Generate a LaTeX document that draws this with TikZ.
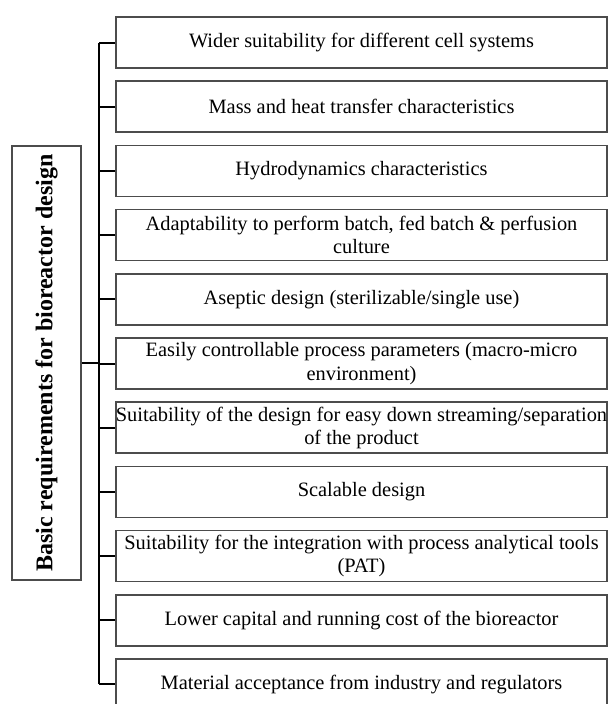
\documentclass[tikz,border=0pt]{standalone}
\usepackage{fontspec}
\setmainfont{Liberation Serif}
\usepackage{tikz}

\begin{document}
\begin{tikzpicture}[
    node distance=1.128cm,
    req/.style={draw=black!70,line width=0.75pt,minimum width=8.63cm,minimum height=0.896cm,
      inner sep=0pt,align=center,font=\fontsize{10.2}{11.6}\selectfont},
    title/.style={draw=black!70,line width=0.75pt,minimum width=7.627cm,minimum height=1.213cm,
      inner sep=0pt,rotate=90,font=\fontsize{12}{14}\selectfont\bfseries},
    bus/.style={line width=1pt,black}
  ]
      \useasboundingbox (0,0) rectangle (10.70,-12.37);

      \node[req] (1) at (6.352,-0.747) {Wider suitability for different cell systems};
      \node[req,below of=1] (2) {Mass and\ heat transfer characteristics};
      \node[req,below of=2] (3) {Hydrodynamics characteristics};
      \node[req,below of=3] (4) {Adaptability to perform batch, fed batch \& perfusion\\culture};
      \node[req,below of=4] (5) {Aseptic design (sterilizable/single use)};
      \node[req,below of=5] (6) {Easily controllable process parameters (macro-micro\\environment)};
      \node[req,below of=6] (7) {Suitability of the design for easy down streaming/separation\\of the product};
      \node[req,below of=7] (8) {Scalable design};
      \node[req,below of=8] (9) {Suitability for the integration with process analytical tools\\(PAT)};
      \node[req,below of=9] (10) {Lower capital and running\ cost of the bioreactor};
      \node[req,below of=10] (11) {Material acceptance from industry and regulators};

      \node[title] (0) at (0.817,-6.379) {Basic\ requirements\ for\ bioreactor\ design};
      \coordinate (bus) at (1.740,0);

      \draw[bus] (1.west -| bus) -- (11.west -| bus);
      \draw[bus] (0.south) -- (0.south -| bus);
      \draw[bus] (1.west) -- (1.west -| bus);
      \draw[bus] (2.west) -- (2.west -| bus);
      \draw[bus] (3.west) -- (3.west -| bus);
      \draw[bus] (4.west) -- (4.west -| bus);
      \draw[bus] (5.west) -- (5.west -| bus);
      \draw[bus] (6.west) -- (6.west -| bus);
      \draw[bus] (7.west) -- (7.west -| bus);
      \draw[bus] (8.west) -- (8.west -| bus);
      \draw[bus] (9.west) -- (9.west -| bus);
      \draw[bus] (10.west) -- (10.west -| bus);
      \draw[bus] (11.west) -- (11.west -| bus);
    \end{tikzpicture}
\end{document}
